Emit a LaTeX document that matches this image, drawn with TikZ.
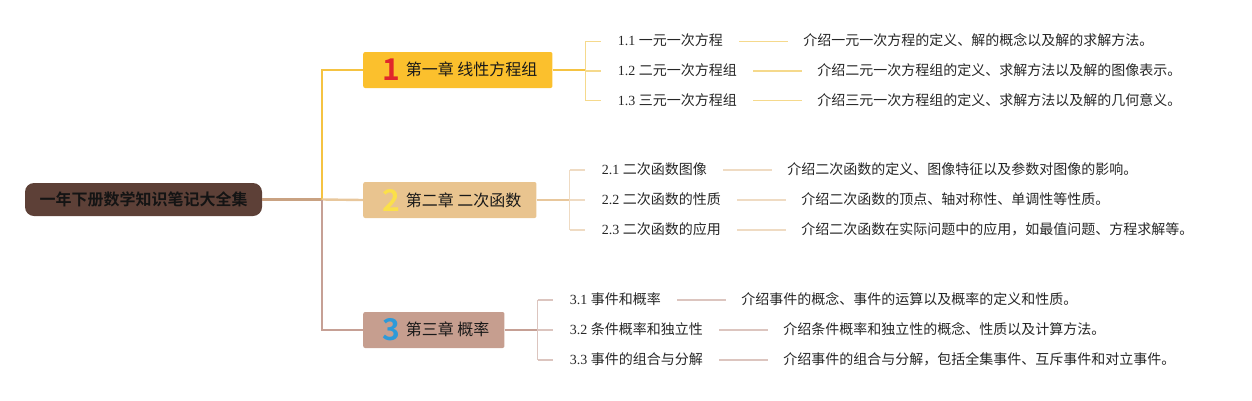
\documentclass[tikz,border=0pt]{standalone}
\usepackage{fontspec}
\setmainfont{Liberation Serif}
\newfontfamily\cjk{Noto Sans CJK SC}[BoldFont={Noto Sans CJK SC Bold}]
\usetikzlibrary{positioning}
\definecolor{rootfill}{HTML}{5D4037}
\definecolor{rootline}{HTML}{C9A282}
\definecolor{chOnefill}{HTML}{FBC02D}
\definecolor{chOneline}{HTML}{F5C342}
\definecolor{chOnetwig}{HTML}{F5D98C}
\definecolor{chOnenum}{HTML}{E0262B}
\definecolor{chTwofill}{HTML}{E9C48F}
\definecolor{chTwoline}{HTML}{E8C79C}
\definecolor{chTwotwig}{HTML}{EFDBC3}
\definecolor{chTwonum}{HTML}{FBE04A}
\definecolor{chThreefill}{HTML}{C69E8F}
\definecolor{chThreeline}{HTML}{C6A095}
\definecolor{chThreetwig}{HTML}{DCC5BF}
\definecolor{chThreenum}{HTML}{2D9AD9}
\tikzset{
    rootbox/.style={fill=rootfill, rounded corners=9pt, minimum width=237pt, minimum height=33pt,
        font=\cjk\bfseries\fontsize{16}{18}\selectfont, text=black!92},
    chapbox/.style={rounded corners=2pt, minimum height=36pt, anchor=west, inner xsep=15pt, inner ysep=0pt,
        font=\cjk\fontsize{16}{18}\selectfont, text=black!90},
    leaf/.style={inner sep=0pt, anchor=west, text height=11pt, text depth=2pt,
        font=\fontsize{14}{16}\selectfont, text=black!85},
    branch/.style={line width=2.4pt},
    twig/.style={line width=1.3pt},
}
\newcommand{\chnum}[2]{\hspace{4pt}\raisebox{-5pt}{\fontsize{30}{30}\selectfont\bfseries\color{#1}#2}\hspace{6pt}}
\begin{document}
\begin{tikzpicture}[x=1pt, y=-1pt]
    \useasboundingbox (0,0) rectangle (1252,400);

    \node[rootbox] (root) at (143.5,199.5) {一年下册数学知识笔记大全集};
    \node[chapbox, fill=chOnefill] (ch1) at (363,70) {\chnum{chOnenum}{1}第一章 线性方程组};
    \node[chapbox, fill=chTwofill] (ch2) at (363,200) {\chnum{chTwonum}{2}第二章 二次函数};
    \node[chapbox, fill=chThreefill] (ch3) at (363,330) {\chnum{chThreenum}{3}第三章 概率};

    \coordinate (fork) at (322,199.5);
    \draw[branch, rootline] (root.east) -- (fork);
    \draw[branch, chOneline] (fork) |- (ch1.west);
    \draw[branch, chTwoline] (fork) -- (ch2.west);
    \draw[branch, chThreeline] (fork) |- (ch3.west);

    \coordinate (b1) at ([xshift=33pt]ch1.east);
    \coordinate (b2) at ([xshift=33pt]ch2.east);
    \coordinate (b3) at ([xshift=33pt]ch3.east);
    \draw[twig, chOneline] (ch1.east) -- (b1);
    \draw[twig, chTwoline] (ch2.east) -- (b2);
    \draw[twig, chThreeline] (ch3.east) -- (b3);

    \foreach \k/\ttl/\dsc [count=\i] in {
        1.1/一元一次方程/介绍一元一次方程的定义、解的概念以及解的求解方法。,
        1.2/二元一次方程组/介绍二元一次方程组的定义、求解方法以及解的图像表示。,
        1.3/三元一次方程组/介绍三元一次方程组的定义、求解方法以及解的几何意义。} {
        \path (b1) ++(32,{(\i-2)*29.7+1}) node[leaf] (t1\i) {\k\ {\cjk\ttl}};
        \node[leaf, right=80pt of t1\i] (d1\i) {\cjk\dsc};
        \draw[twig, chOnetwig] (b1 |- t1\i.west) -- ([xshift=-17pt]t1\i.west);
        \draw[twig, chOnetwig] ([xshift=16pt]t1\i.east) -- ([xshift=-15pt]d1\i.west);
    }
    \draw[twig, chOnetwig] (b1 |- t11.west) -- (b1 |- t13.west);

    \foreach \k/\ttl/\dsc [count=\i] in {
        2.1/二次函数图像/介绍二次函数的定义、图像特征以及参数对图像的影响。,
        2.2/二次函数的性质/介绍二次函数的顶点、轴对称性、单调性等性质。,
        2.3/二次函数的应用/介绍二次函数在实际问题中的应用，如最值问题、方程求解等。} {
        \path (b2) ++(32,{(\i-2)*30}) node[leaf] (t2\i) {\k\ {\cjk\ttl}};
        \node[leaf, right=80pt of t2\i] (d2\i) {\cjk\dsc};
        \draw[twig, chTwotwig] (b2 |- t2\i.west) -- ([xshift=-17pt]t2\i.west);
        \draw[twig, chTwotwig] ([xshift=16pt]t2\i.east) -- ([xshift=-15pt]d2\i.west);
    }
    \draw[twig, chTwotwig] (b2 |- t21.west) -- (b2 |- t23.west);

    \foreach \k/\ttl/\dsc [count=\i] in {
        3.1/事件和概率/介绍事件的概念、事件的运算以及概率的定义和性质。,
        3.2/条件概率和独立性/介绍条件概率和独立性的概念、性质以及计算方法。,
        3.3/事件的组合与分解/介绍事件的组合与分解，包括全集事件、互斥事件和对立事件。} {
        \path (b3) ++(32,{(\i-2)*30}) node[leaf] (t3\i) {\k\ {\cjk\ttl}};
        \node[leaf, right=80pt of t3\i] (d3\i) {\cjk\dsc};
        \draw[twig, chThreetwig] (b3 |- t3\i.west) -- ([xshift=-17pt]t3\i.west);
        \draw[twig, chThreetwig] ([xshift=16pt]t3\i.east) -- ([xshift=-15pt]d3\i.west);
    }
    \draw[twig, chThreetwig] (b3 |- t31.west) -- (b3 |- t33.west);
\end{tikzpicture}
\end{document}
